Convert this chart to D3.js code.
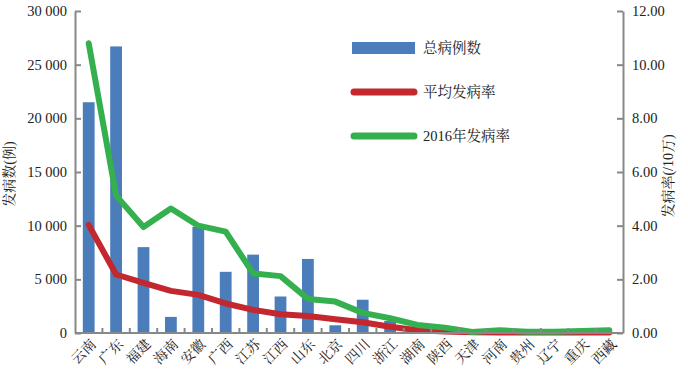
<!DOCTYPE html>
<html>
<head>
<meta charset="utf-8">
<script src="https://cdn.jsdelivr.net/npm/d3@7"></script>
<style>
  body { margin: 0; background: #fff; }
  text { font-family: "Liberation Serif", "Times New Roman", Tinos, "DejaVu Serif", "Noto Serif CJK SC", "Noto Sans CJK SC", serif; fill: #222; }
</style>
</head>
<body>
<div id="chart"></div>
<script>
const provinces = ['云南','广东','福建','海南','安徽','广西','江苏','江西','山东','北京',
                   '四川','浙江','湖南','陕西','天津','河南','贵州','辽宁','重庆','西藏'];
const totalCases = [21500, 26700, 8000, 1500, 9900, 5700, 7300, 3400, 6900, 720,
                    3100, 1120, 750, 280, 40, 140, 30, 30, 30, 20];
const avgRate = [4.03, 2.18, 1.87, 1.57, 1.42, 1.10, 0.86, 0.70, 0.63, 0.51,
                 0.40, 0.23, 0.10, 0.06, 0.03, 0.02, 0.02, 0.02, 0.02, 0.02];
const rate2016 = [10.8, 5.12, 3.95, 4.64, 4.0, 3.78, 2.22, 2.12, 1.27, 1.17,
                  0.75, 0.55, 0.30, 0.20, 0.04, 0.10, 0.05, 0.05, 0.07, 0.10];
const leftTicks = [0, 5000, 10000, 15000, 20000, 25000, 30000];
const rightTicks = [0, 2, 4, 6, 8, 10, 12];
const legendItems = ['总病例数', '平均发病率', '2016年发病率'];

const blue = '#4a7dba', red = '#c2282e', green = '#35b04f', axisCol = '#888';

let width = 688, height = 374;
let margin = {left: 75, right: 65, top: 11, bottom: 41};

var svg = d3.select('#chart')
            .append('svg')
              .attr('width', width)
              .attr('height', height);

let x = d3.scaleBand()
          .domain(provinces)
          .range([margin.left, width - margin.right])
          .paddingInner(0.57)
          .paddingOuter(0.285);
let xc = d => x(d) + x.bandwidth() / 2;
let step = x.step();

let yL = d3.scaleLinear().domain([0, 30000]).range([height - margin.bottom, margin.top]);
let yR = d3.scaleLinear().domain([0, 12]).range([height - margin.bottom, margin.top]);

// bars
svg.selectAll('rect.bar')
   .data(totalCases).enter().append('rect')
     .attr('class', 'bar')
     .attr('x', (d, i) => x(provinces[i]))
     .attr('width', x.bandwidth())
     .attr('y', d => yL(d))
     .attr('height', d => yL(0) - yL(d))
     .attr('fill', blue);

// lines
let line = d3.line()
             .x((d, i) => xc(provinces[i]))
             .y(d => yR(d));

[[avgRate, red], [rate2016, green]].forEach(([vals, col]) => {
  svg.append('path')
     .datum(vals)
     .attr('d', line)
     .attr('fill', 'none')
     .attr('stroke', col)
     .attr('stroke-width', 6)
     .attr('stroke-linecap', 'round')
     .attr('stroke-linejoin', 'round');
});

// axes
let leftAxis = d3.axisLeft(yL)
                 .tickValues(leftTicks)
                 .tickSizeInner(-6).tickSizeOuter(0).tickPadding(8)
                 .tickFormat(d => d3.format(',')(d).replace(/,/g, ' '));
let rightAxis = d3.axisRight(yR)
                  .tickValues(rightTicks)
                  .tickSizeInner(-6).tickSizeOuter(0).tickPadding(9)
                  .tickFormat(d3.format('.2f'));

let gL = svg.append('g').attr('transform', `translate(${margin.left},0)`).call(leftAxis);
let gR = svg.append('g').attr('transform', `translate(${width - margin.right},0)`).call(rightAxis);

[gL, gR].forEach(g => {
  g.select('.domain').attr('stroke', axisCol).attr('stroke-width', 2);
  g.selectAll('.tick line').attr('stroke', axisCol).attr('stroke-width', 2);
  g.selectAll('.tick text')
   .attr('font-size', 14.5)
   .attr('fill', '#222');
});

// x axis baseline + ticks between categories
let base = yL(0);
svg.append('line')
   .attr('x1', margin.left).attr('x2', width - margin.right)
   .attr('y1', base).attr('y2', base)
   .attr('stroke', axisCol).attr('stroke-width', 2);

svg.selectAll('line.xtick')
   .data(provinces.slice(1)).enter().append('line')
     .attr('class', 'xtick')
     .attr('x1', d => xc(d) - step / 2).attr('x2', d => xc(d) - step / 2)
     .attr('y1', base).attr('y2', base - 5)
     .attr('stroke', axisCol).attr('stroke-width', 2);

svg.selectAll('text.xlab')
   .data(provinces).enter().append('text')
     .attr('class', 'xlab')
     .attr('transform', d => `translate(${xc(d) + 5},${base + 9}) rotate(-45)`)
     .attr('text-anchor', 'end')
     .attr('dominant-baseline', 'central')
     .attr('font-size', 14)
     .text(d => d);

// axis titles
svg.append('text')
   .attr('transform', 'translate(9,174) rotate(-90)')
   .attr('text-anchor', 'middle')
   .attr('dominant-baseline', 'central')
   .attr('font-size', 14)
   .text('发病数(例)');

svg.append('text')
   .attr('transform', 'translate(668,176) rotate(-90)')
   .attr('text-anchor', 'middle')
   .attr('dominant-baseline', 'central')
   .attr('font-size', 14)
   .text('发病率(/10万)');

// legend
let legend = svg.append('g').attr('transform', 'translate(352,48)');
legendItems.forEach((name, i) => {
  let g = legend.append('g').attr('transform', `translate(0,${i * 44})`);
  if (i === 0) {
    g.append('rect').attr('x', 0).attr('y', -6).attr('width', 63).attr('height', 12).attr('fill', blue);
  } else {
    g.append('line')
     .attr('x1', 2).attr('x2', 62).attr('y1', 0).attr('y2', 0)
     .attr('stroke', i === 1 ? red : green)
     .attr('stroke-width', 7)
     .attr('stroke-linecap', 'round');
  }
  g.append('text')
   .attr('x', 71).attr('y', 0)
   .attr('dominant-baseline', 'central')
   .attr('font-size', 14.5)
   .text(name);
});
</script>
</body>
</html>
